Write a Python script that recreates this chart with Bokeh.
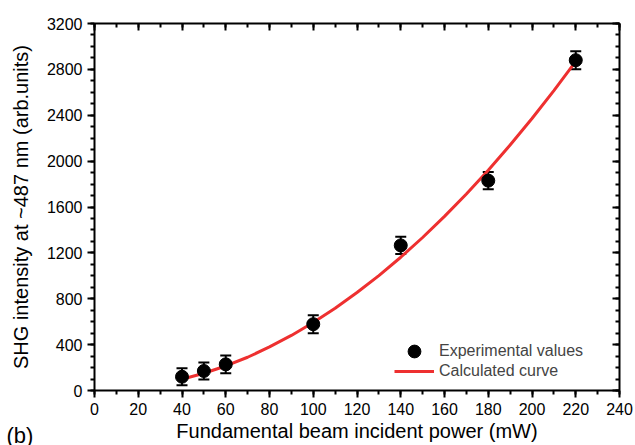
from bokeh.plotting import figure
from bokeh.models import (LinearAxis, Range1d, ColumnDataSource, Whisker, TeeHead,
                          Legend, LegendItem, Title, FixedTicker)
from bokeh.embed import file_html
from bokeh.resources import INLINE

# data
power = [40, 50, 60, 100, 140, 180, 220]
shg = [120, 170, 228, 578, 1265, 1830, 2880]
shg_err = [75, 75, 78, 78, 75, 75, 78]

curve_x = [40, 50, 60, 70, 80, 90, 100, 110, 120, 130, 140, 150, 160, 170, 180, 190, 200, 210, 220]
curve_y = [98, 150, 214, 290, 380, 480, 593, 717, 854, 1002, 1162, 1334, 1518, 1713, 1921, 2140, 2372, 2615, 2870]

x_ticks = list(range(0, 241, 20))
y_ticks = list(range(0, 3201, 400))

FONT = "Liberation Sans"
RED = "#ee3030"

p = figure(width=635, height=445, output_backend="svg", toolbar_location=None,
           x_range=Range1d(0, 240), y_range=Range1d(0, 3200),
           min_border_left=94, min_border_right=16, min_border_top=23, min_border_bottom=55)
p.outline_line_color = None
p.grid.visible = False
p.background_fill_color = "white"

src = ColumnDataSource(dict(x=power, y=shg,
                            lo=[v - e for v, e in zip(shg, shg_err)],
                            hi=[v + e for v, e in zip(shg, shg_err)]))

line_r = p.line(curve_x, curve_y, line_color=RED, line_width=3)
wh = Whisker(source=src, base="x", lower="lo", upper="hi", line_width=2, line_color="black",
             upper_head=TeeHead(size=11, line_width=2, line_color="black"),
             lower_head=TeeHead(size=11, line_width=2, line_color="black"))
p.add_layout(wh)
pts = p.scatter("x", "y", source=src, size=13, color="black")

def style(ax, labels=True):
    ax.axis_line_width = 2
    ax.axis_line_color = "black"
    ax.major_tick_line_width = 2
    ax.minor_tick_line_width = 2
    ax.major_tick_line_color = "black"
    ax.minor_tick_line_color = "black"
    if labels:
        ax.major_tick_out = 7
        ax.major_tick_in = 0
        ax.minor_tick_out = 4
        ax.minor_tick_in = 0
        ax.major_label_text_font = FONT
        ax.major_label_text_font_size = "16px"
        ax.major_label_text_color = "black"
        ax.major_label_standoff = 5
        ax.axis_label_text_font = FONT
        ax.axis_label_text_font_size = "20px"
        ax.axis_label_text_font_style = "normal"
        ax.axis_label_text_color = "black"
    else:
        ax.major_tick_out = 0
        ax.major_tick_in = 7
        ax.minor_tick_out = 0
        ax.minor_tick_in = 4
        ax.major_label_text_font_size = "0px"
        ax.major_label_text_color = None

xt = FixedTicker(ticks=x_ticks, minor_ticks=list(range(0, 241, 10)))
yt = FixedTicker(ticks=y_ticks, minor_ticks=list(range(0, 3201, 100)))

p.xaxis.ticker = xt
p.yaxis.ticker = yt
p.xaxis.axis_label = "Fundamental beam incident power (mW)"
p.yaxis.axis_label = "SHG intensity at ~487 nm (arb.units)"
style(p.xaxis[0])
style(p.yaxis[0])
p.xaxis.axis_label_standoff = 2
p.yaxis.axis_label_standoff = 12

top = LinearAxis(ticker=FixedTicker(ticks=x_ticks, minor_ticks=list(range(0, 241, 10))))
right = LinearAxis(ticker=FixedTicker(ticks=y_ticks, minor_ticks=list(range(0, 3201, 100))))
style(top, labels=False)
style(right, labels=False)
p.add_layout(top, "above")
p.add_layout(right, "right")

common = dict(border_line_color=None, background_fill_alpha=0,
              label_text_font=FONT, label_text_font_size="16px",
              glyph_width=40, spacing=0, padding=0, margin=0, label_standoff=5)
leg1 = Legend(items=[LegendItem(label="Experimental values", renderers=[pts])],
              location=(300, 23), glyph_height=32, label_height=32, **common)
leg2 = Legend(items=[LegendItem(label="Calculated curve", renderers=[line_r])],
              location=(300, 9), glyph_height=20, label_height=20, **common)
p.add_layout(leg1, "center")
p.add_layout(leg2, "center")

panel_label = Title(text="(b)\n ", align="left", offset=-88, standoff=-56,
                    text_font=FONT, text_font_size="22px", text_font_style="normal",
                    text_color="black")
p.add_layout(panel_label, "below")

open("out.html", "w").write(file_html(p, INLINE))
